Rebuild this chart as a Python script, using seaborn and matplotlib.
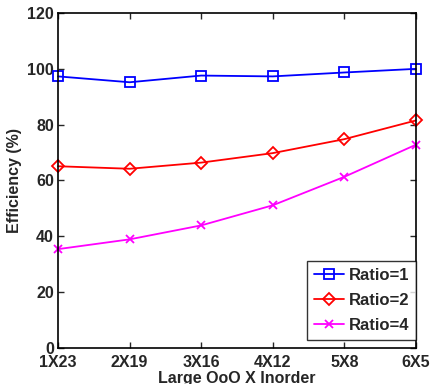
import matplotlib
matplotlib.use("Agg")
import matplotlib.pyplot as plt
import seaborn as sns
import pandas as pd

categories = ["1X23", "2X19", "3X16", "4X12", "5X8", "6X5"]
ratio1 = [97.3, 95.2, 97.6, 97.3, 98.7, 100.0]
ratio2 = [65.1, 64.2, 66.4, 69.8, 74.8, 81.5]
ratio4 = [35.4, 38.9, 43.9, 51.1, 61.3, 72.8]
series_names = ["Ratio=1", "Ratio=2", "Ratio=4"]

sns.set_style("ticks")
plt.rcParams['font.family'] = ['Liberation Sans', 'DejaVu Sans']
plt.rcParams['font.weight'] = 'bold'

rows = []
for name, vals in zip(series_names, [ratio1, ratio2, ratio4]):
    for i, v in enumerate(vals):
        rows.append({"x": i, "y": v, "series": name})
df = pd.DataFrame(rows)

fig = plt.figure(figsize=(4.3, 3.84), dpi=100)
ax = fig.add_axes([0.135, 0.094, 0.832, 0.872])

styles = {
    "Ratio=1": dict(color="#0000ff", marker="s", markersize=6.5, markerfacecolor="none",
                    markeredgecolor="#0000ff", markeredgewidth=1.3),
    "Ratio=2": dict(color="#ff0000", marker="D", markersize=6.5, markerfacecolor="none",
                    markeredgecolor="#ff0000", markeredgewidth=1.3),
    "Ratio=4": dict(color="#ff00ff", marker="x", markersize=5.5, markerfacecolor="none",
                    markeredgecolor="#ff00ff", markeredgewidth=1.3),
}
for name in series_names:
    sub = df[df.series == name]
    sns.lineplot(data=sub, x="x", y="y", ax=ax, label=name, linewidth=1.3,
                 clip_on=False, **styles[name])

ax.set_xlim(0, 5)
ax.set_ylim(0, 120)
ax.set_xticks(range(len(categories)))
ax.set_xticklabels(categories)
ax.set_yticks([0, 20, 40, 60, 80, 100, 120])
ax.tick_params(direction="in", top=True, right=True, labelsize=11.5, length=4, width=1, pad=3)
ax.tick_params(axis="x", pad=5)
for lab in ax.get_xticklabels() + ax.get_yticklabels():
    lab.set_fontweight("bold")
for sp in ax.spines.values():
    sp.set_linewidth(1.2)
    sp.set_color("black")
ax.set_xlabel("Large OoO X Inorder", fontsize=11.5, fontweight="bold", labelpad=1)
ax.set_ylabel("Efficiency (%)", fontsize=11.5, fontweight="bold", labelpad=4)

leg = ax.legend(loc="lower right", bbox_to_anchor=(1.0, 0.025), frameon=True, fancybox=False,
                edgecolor="black", fontsize=12, handlelength=1.8, borderpad=0.4,
                labelspacing=0.6, handletextpad=0.3, borderaxespad=0.0)
leg.get_frame().set_linewidth(1.0)
for t in leg.get_texts():
    t.set_fontweight("bold")

fig.savefig("out.png", dpi=100)
